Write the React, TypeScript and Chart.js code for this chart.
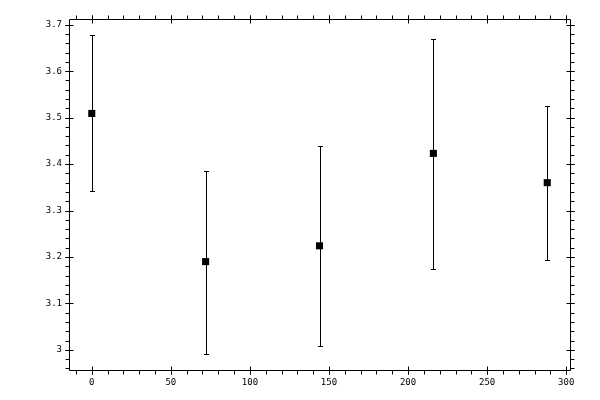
import { useEffect, useRef } from "react";
import { Chart, registerables, Plugin } from "chart.js";

Chart.register(...registerables);

const xValues = [0, 72, 144, 216, 288];
const yValues = [3.509, 3.19, 3.224, 3.423, 3.36];
const yUpper = [3.678, 3.385, 3.439, 3.67, 3.525];
const yLower = [3.343, 2.991, 3.009, 3.174, 3.194];
const xTicks = [0, 50, 100, 150, 200, 250, 300];
const yTicks = [3, 3.1, 3.2, 3.3, 3.4, 3.5, 3.6, 3.7];
const xMinorStep = 10;
const yMinorStep = 0.02;

// 5% padding around the data extent, like the original plot
const xSpan = Math.max(...xValues) - Math.min(...xValues);
const xMin = Math.min(...xValues) - xSpan * 0.05;
const xMax = Math.max(...xValues) + xSpan * 0.05;
const ySpan = Math.max(...yUpper) - Math.min(...yLower);
const yMin = Math.min(...yLower) - ySpan * 0.05;
const yMax = Math.max(...yUpper) + ySpan * 0.05;

const tickFont = { family: '"DejaVu Sans Mono", monospace', size: 9 };

const minorValues = (min: number, max: number, step: number) => {
  const out: number[] = [];
  for (let i = Math.ceil(min / step); i * step <= max; i++) out.push(i * step);
  return out;
};

const errorBars: Plugin = {
  id: "errorBars",
  beforeDatasetsDraw(chart) {
    const { ctx } = chart;
    const x = chart.scales.x;
    const y = chart.scales.y;
    ctx.save();
    ctx.strokeStyle = "#000";
    ctx.lineWidth = 1;
    xValues.forEach((v, i) => {
      const px = Math.round(x.getPixelForValue(v)) + 0.5;
      const top = Math.round(y.getPixelForValue(yUpper[i])) + 0.5;
      const bot = Math.round(y.getPixelForValue(yLower[i])) + 0.5;
      ctx.beginPath();
      ctx.moveTo(px, top);
      ctx.lineTo(px, bot);
      ctx.moveTo(px - 2.5, top);
      ctx.lineTo(px + 2.5, top);
      ctx.moveTo(px - 2.5, bot);
      ctx.lineTo(px + 2.5, bot);
      ctx.stroke();
    });
    ctx.restore();
  },
};

// box frame with ticks on all four sides: outward ticks, majors also reach inward
const frameTicks: Plugin = {
  id: "frameTicks",
  afterDraw(chart) {
    const { ctx, chartArea } = chart;
    const x = chart.scales.x;
    const y = chart.scales.y;
    const l = Math.round(chartArea.left) + 0.5;
    const r = Math.round(chartArea.right) + 0.5;
    const t = Math.round(chartArea.top) + 0.5;
    const b = Math.round(chartArea.bottom) + 0.5;
    const out = 4;
    const inn = 4;
    ctx.save();
    ctx.strokeStyle = "#000";
    ctx.lineWidth = 1;
    ctx.beginPath();
    ctx.rect(l, t, r - l, b - t);

    const xTick = (v: number, major: boolean) => {
      const px = Math.round(x.getPixelForValue(v)) + 0.5;
      ctx.moveTo(px, b + out);
      ctx.lineTo(px, major ? b - inn : b);
      ctx.moveTo(px, t - out);
      ctx.lineTo(px, major ? t + inn : t);
    };
    const yTick = (v: number, major: boolean) => {
      const py = Math.round(y.getPixelForValue(v)) + 0.5;
      ctx.moveTo(l - out, py);
      ctx.lineTo(major ? l + inn : l, py);
      ctx.moveTo(r + out, py);
      ctx.lineTo(major ? r - inn : r, py);
    };
    minorValues(xMin, xMax, xMinorStep).forEach((v) => xTick(v, false));
    minorValues(yMin, yMax, yMinorStep).forEach((v) => yTick(v, false));
    xTicks.forEach((v) => xTick(v, true));
    yTicks.forEach((v) => yTick(v, true));
    ctx.stroke();
    ctx.restore();
  },
};

export default function App() {
  const canvasRef = useRef<HTMLCanvasElement>(null);

  useEffect(() => {
    if (!canvasRef.current) return;
    const chart = new Chart(canvasRef.current, {
      type: "scatter",
      data: {
        datasets: [
          {
            data: xValues.map((v, i) => ({ x: v, y: yValues[i] })),
            pointStyle: "rect",
            pointRadius: 5,
            borderWidth: 0,
            backgroundColor: "#000",
            borderColor: "#000",
          },
        ],
      },
      options: {
        responsive: false,
        animation: false,
        layout: { padding: { top: 19, right: 30, left: 0, bottom: 0 } },
        plugins: { legend: { display: false }, tooltip: { enabled: false } },
        scales: {
          x: {
            type: "linear",
            min: xMin,
            max: xMax,
            grid: { display: false, drawTicks: false },
            border: { display: false },
            ticks: {
              font: tickFont,
              color: "#000",
              padding: 7,
              maxRotation: 0,
              autoSkip: false,
              callback: (v) => String(v),
            },
            afterBuildTicks: (axis) => {
              axis.ticks = xTicks.map((v) => ({ value: v }));
            },
            afterFit: (axis) => {
              axis.height = 30;
            },
          },
          y: {
            type: "linear",
            min: yMin,
            max: yMax,
            grid: { display: false, drawTicks: false },
            border: { display: false },
            ticks: {
              font: tickFont,
              color: "#000",
              padding: 7,
              autoSkip: false,
              callback: (v) => String(v),
            },
            afterBuildTicks: (axis) => {
              axis.ticks = yTicks.map((v) => ({ value: v }));
            },
            afterFit: (axis) => {
              axis.width = 69;
            },
          },
        },
      },
      plugins: [errorBars, frameTicks],
    });
    return () => chart.destroy();
  }, []);

  return (
    <div style={{ position: "absolute", left: 0, top: 0, width: 600, height: 400, background: "#fff" }}>
      <canvas ref={canvasRef} width={600} height={400} style={{ display: "block" }} />
    </div>
  );
}
